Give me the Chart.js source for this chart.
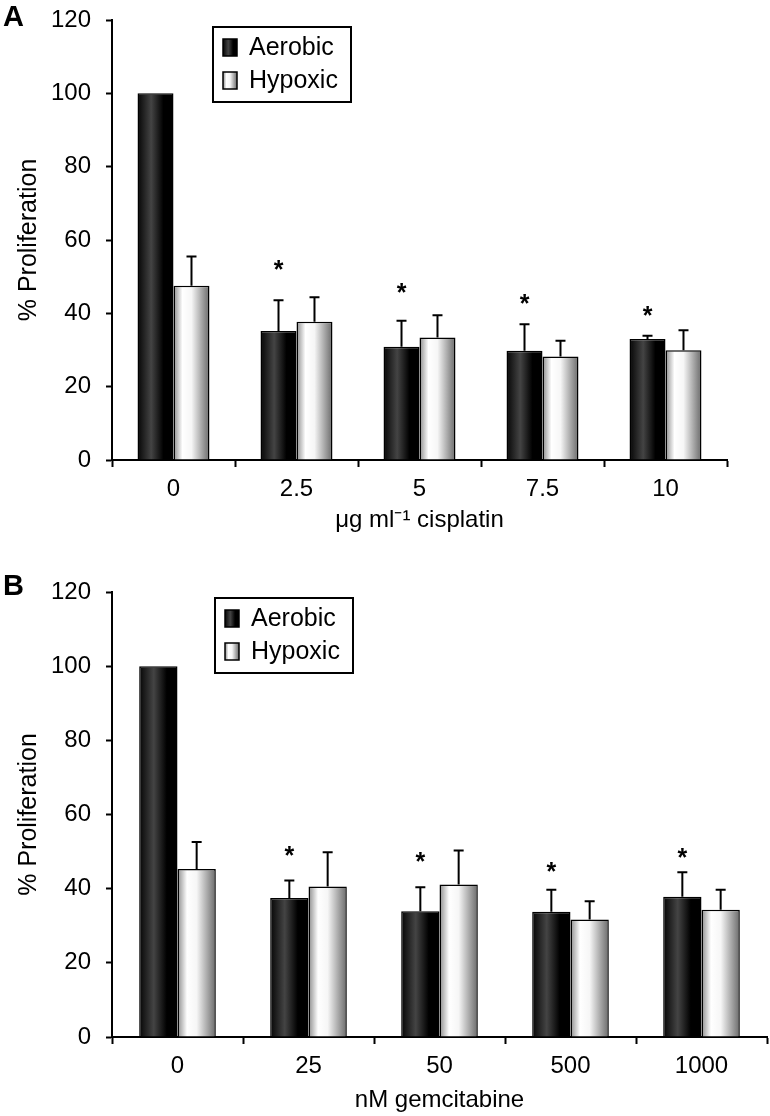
<!DOCTYPE html>
<html>
<head>
<meta charset="utf-8">
<script src="https://cdn.jsdelivr.net/npm/chart.js@4.4.0/dist/chart.umd.min.js"></script>
<style>
  body { margin: 0; background: #fff; }
  canvas { display: block; }
</style>
</head>
<body>
<canvas id="chartA" width="770" height="550"></canvas>
<canvas id="chartB" width="770" height="566"></canvas>
<script>
// panel A - cisplatin
const cisLabels = ["0", "2.5", "5", "7.5", "10"];
const cisAerobic = [100, 35.2, 30.9, 29.8, 33.0];
const cisAerobicErr = [0, 8.4, 7.1, 7.2, 0.9];
const cisHypoxic = [47.5, 37.7, 33.4, 28.2, 29.9];
const cisHypoxicErr = [8.0, 6.7, 6.1, 4.3, 5.5];
const cisStars = [null, 53.5, 47.3, 44.2, 41.0];

// panel B - gemcitabine
const gemLabels = ["0", "25", "50", "500", "1000"];
const gemAerobic = [100, 37.5, 33.9, 33.8, 37.8];
const gemAerobicErr = [0, 4.7, 6.5, 5.9, 6.6];
const gemHypoxic = [45.3, 40.6, 41.1, 31.7, 34.3];
const gemHypoxicErr = [7.3, 9.2, 9.2, 4.9, 5.4];
const gemStars = [null, 50.3, 48.9, 46.0, 49.9];

const yTicks = [0, 20, 40, 60, 80, 100, 120];

const FONT = "'Liberation Sans', Arial, Helvetica, sans-serif";
const CAT_PCT = 0.585;

function makeGradient(ctx, left, width, kind) {
    const g = ctx.createLinearGradient(left, 0, left + width, 0);
    if (kind === "a") {
        g.addColorStop(0, "#050505");
        g.addColorStop(0.38, "#444444");
        g.addColorStop(0.72, "#000000");
        g.addColorStop(1, "#000000");
    } else {
        g.addColorStop(0, "#8c8c8c");
        g.addColorStop(0.25, "#ffffff");
        g.addColorStop(0.5, "#f6f6f6");
        g.addColorStop(1, "#6a6a6a");
    }
    return g;
}

function barFill(kind) {
    return (c) => {
        const chart = c.chart;
        const xs = chart.scales.x;
        if (!xs || !chart.chartArea || c.dataIndex === undefined) {
            return kind === "a" ? "#111" : "#ddd";
        }
        const n = chart.data.labels.length;
        const center = xs.getPixelForValue(c.dataIndex);
        const bw = (xs.width / n) * CAT_PCT / 2;
        const left = kind === "a" ? center - bw : center;
        return makeGradient(chart.ctx, left, bw, kind);
    };
}

// error bars, stars, legend box and panel letter
const extrasPlugin = {
    id: "extras",
    afterDatasetsDraw(chart, args, opts) {
        const ctx = chart.ctx;
        const ys = chart.scales.y;
        ctx.save();
        ctx.strokeStyle = "#000";
        ctx.lineWidth = 2;
        chart.data.datasets.forEach((ds, i) => {
            const meta = chart.getDatasetMeta(i);
            meta.data.forEach((bar, j) => {
                const err = opts.errs[i][j];
                if (!err) return;
                const yTop = ys.getPixelForValue(ds.data[j]);
                const yErr = ys.getPixelForValue(ds.data[j] + err);
                ctx.beginPath();
                ctx.moveTo(bar.x, yTop);
                ctx.lineTo(bar.x, yErr);
                ctx.moveTo(bar.x - 5, yErr);
                ctx.lineTo(bar.x + 5, yErr);
                ctx.stroke();
            });
        });
        // significance stars above aerobic bars
        const aMeta = chart.getDatasetMeta(0);
        ctx.fillStyle = "#000";
        ctx.font = "bold 25px " + FONT;
        ctx.textAlign = "center";
        ctx.textBaseline = "alphabetic";
        opts.stars.forEach((v, j) => {
            if (v == null) return;
            ctx.fillText("*", aMeta.data[j].x, ys.getPixelForValue(v) + 14);
        });
        ctx.restore();
    },
    afterDraw(chart, args, opts) {
        const ctx = chart.ctx;
        const area = chart.chartArea;
        ctx.save();
        // panel letter
        ctx.fillStyle = "#000";
        ctx.font = "bold 29px " + FONT;
        ctx.textAlign = "left";
        ctx.textBaseline = "middle";
        ctx.fillText(opts.letter, 3, opts.letterY);
        // legend
        const bx = area.left + opts.legendDx;
        const by = area.top + opts.legendDy;
        const bw = 138, bh = 75;
        ctx.lineWidth = 2;
        ctx.strokeStyle = "#000";
        ctx.strokeRect(bx, by, bw, bh);
        ctx.font = "25px " + FONT;
        chart.data.datasets.forEach((ds, i) => {
            const sy = by + 12 + i * 33;
            const sx = bx + 10;
            ctx.fillStyle = makeGradient(ctx, sx, 14, i === 0 ? "a" : "h");
            ctx.fillRect(sx, sy, 14, 17);
            ctx.lineWidth = 1.5;
            ctx.strokeRect(sx, sy, 14, 17);
            ctx.fillStyle = "#000";
            ctx.fillText(ds.label, bx + 36, sy + 9);
        });
        ctx.restore();
    }
};

function makePanel(id, labels, aerobic, hypoxic, errs, stars, title, cfg) {
    const ctx = document.getElementById(id).getContext("2d");
    return new Chart(ctx, {
        type: "bar",
        data: {
            labels: labels,
            datasets: [
                {
                    label: "Aerobic",
                    data: aerobic,
                    backgroundColor: barFill("a"),
                    borderColor: "#000",
                    borderWidth: 1.5,
                    categoryPercentage: CAT_PCT,
                    barPercentage: 1
                },
                {
                    label: "Hypoxic",
                    data: hypoxic,
                    backgroundColor: barFill("h"),
                    borderColor: "#000",
                    borderWidth: 1.5,
                    categoryPercentage: CAT_PCT,
                    barPercentage: 1
                }
            ]
        },
        plugins: [extrasPlugin],
        options: {
            responsive: false,
            animation: false,
            devicePixelRatio: 1,
            layout: { padding: { left: 0, right: cfg.padRight, top: cfg.padTop, bottom: 0 } },
            plugins: {
                legend: { display: false },
                tooltip: { enabled: false },
                extras: {
                    errs: errs,
                    stars: stars,
                    letter: cfg.letter,
                    letterY: cfg.letterY,
                    legendDx: cfg.legendDx,
                    legendDy: cfg.legendDy
                }
            },
            scales: {
                x: {
                    afterFit: (s) => { s.height = cfg.xHeight; },
                    grid: { drawOnChartArea: false, drawTicks: true, tickLength: 7, tickWidth: 2, tickColor: "#000", offset: true },
                    border: { display: true, color: "#000", width: 2 },
                    ticks: { color: "#000", padding: 8, font: { family: FONT, size: 24 } },
                    title: {
                        display: true,
                        text: title,
                        color: "#000",
                        font: { family: FONT, size: 24 },
                        padding: { top: 0, bottom: cfg.titlePad }
                    }
                },
                y: {
                    min: 0,
                    max: 120,
                    afterFit: (s) => { s.width = 112; s.paddingTop = 0; s.paddingBottom = 0; },
                    afterBuildTicks: (s) => { s.ticks = yTicks.map(v => ({ value: v })); },
                    grid: { drawOnChartArea: false, drawTicks: true, tickLength: 6, tickWidth: 2, tickColor: "#000" },
                    border: { display: true, color: "#000", width: 2 },
                    ticks: { color: "#000", padding: 15, font: { family: FONT, size: 24 } },
                    title: {
                        display: true,
                        text: "% Proliferation",
                        color: "#000",
                        font: { family: FONT, size: 25 },
                        padding: { top: 14, bottom: 0 }
                    }
                }
            }
        }
    });
}

makePanel("chartA", cisLabels, cisAerobic, cisHypoxic,
    [cisAerobicErr, cisHypoxicErr], cisStars, "μg ml⁻¹ cisplatin",
    { padRight: 43, padTop: 20, xHeight: 90, titlePad: 15, letter: "A", letterY: 18, legendDx: 101, legendDy: 7 });

makePanel("chartB", gemLabels, gemAerobic, gemHypoxic,
    [gemAerobicErr, gemHypoxicErr], gemStars, "nM gemcitabine",
    { padRight: 3, padTop: 42, xHeight: 79, titlePad: 1, letter: "B", letterY: 37, legendDx: 103, legendDy: 6 });
</script>
</body>
</html>
